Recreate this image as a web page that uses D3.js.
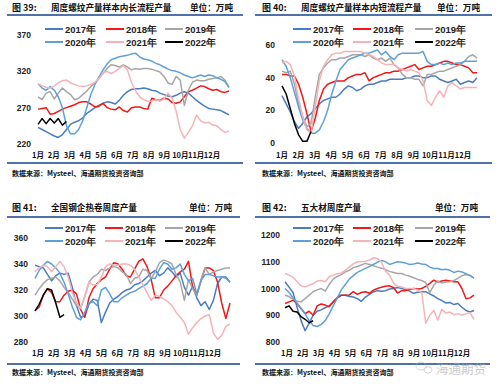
<!DOCTYPE html>
<html>
<head>
<meta charset="utf-8">
<script src="https://d3js.org/d3.v7.min.js"></script>
<style>
  body { margin: 0; background: #fff; }
  svg { font-family: "Liberation Sans", Arial, sans-serif; }
  .cn { font-family: "Noto Sans CJK SC", "Noto Sans", sans-serif; }
</style>
</head>
<body>
<div id="chart"></div>
<script>
var years = ["2017年", "2018年", "2019年", "2020年", "2021年", "2022年"];
var months = ["1月", "2月", "3月", "4月", "5月", "6月", "7月", "8月", "9月", "10月", "11月", "12月"];

// 图39 周度螺纹产量样本内长流程产量（weekly）
var long2017 = [243,240,237,234,231,229,233,240,247,250,252,256,262,266,270,273,276,278,277,275,280,287,292,295,296,296,297,296,294,293,290,288,286,285,287,290,292,290,285,280,276,272,269,268,267,266,263,260];
var long2018 = [268,269,270,261,262,265,268,270,272,274,277,278,278,275,271,272,276,270,268,267,271,266,264,270,271,271,269,268,283,281,280,283,282,277,276,278,285,292,294,297,300,299,296,294,295,292,291,293];
var long2019 = [285,281,290,292,282,290,297,292,288,281,283,288,293,299,304,310,317,324,329,328,326,329,326,322,324,323,324,324,323,321,319,313,304,302,313,308,273,294,305,308,307,307,309,310,311,313,308,298];
var long2020 = [303,297,294,299,294,285,270,245,234,234,240,252,270,288,302,312,322,330,336,338,340,341,342,344,345,340,337,336,334,331,329,326,323,321,320,318,315,313,311,313,315,313,315,314,311,309,306,298];
var long2021 = [303,300,298,297,300,304,307,308,304,302,300,299,300,302,305,310,318,320,317,320,324,328,322,305,293,285,281,279,279,281,279,282,290,283,265,240,228,236,245,260,252,249,250,246,245,240,236,238];
var long2022 = [247,255,248,255,249,255,246,251];

// 图40 周度螺纹产量样本内短流程产量
var short2017 = [29,24,19,13,9,12,16,18,21,24,26,27,28,28,30,33,35,34,32,33,35,36,36,37,38,38,39,39,39,39,40,40,41,41,40,40,41,41,39,38,37,38,39,36,37,38,37,40];
var short2018 = [42,42,41,41,36,28,18,7,15,26,33,36,37,38,38,38,40,41,42,42,43,38,40,41,42,43,43,44,44,45,46,47,48,45,46,47,47,48,49,50,50,49,48,48,47,46,43,43];
var short2019 = [44,43,44,36,24,16,10,12,28,42,46,49,51,51,52,52,53,54,54,54,53,54,52,51,52,50,52,48,46,42,40,40,39,39,35,42,42,43,44,44,45,46,47,48,50,53,54,52];
var short2020 = [51,47,40,31,22,14,9,6,6,8,13,20,30,38,45,48,51,52,53,54,55,55,56,57,54,56,53,51,54,55,55,55,55,55,56,50,48,48,49,48,49,48,49,49,50,50,50,50];
var short2021 = [49,50,48,41,27,16,8,6,22,38,47,51,54,55,55,56,56,56,56,56,55,54,53,51,49,48,48,48,46,45,44,45,44,43,38,26,23,28,32,28,35,37,35,33,34,34,34,34];
var short2022 = [35,30,21,12,5,1,1,7];

// 图41 全国钢企热卷周度产量
var coil2017 = [339,338,337,332,327,331,333,332,333,322,308,299,300,309,313,312,295,303,310,313,315,318,320,321,324,325,327,330,333,335,331,333,337,334,330,333,322,316,323,314,308,311,305,312,325,330,330,326];
var coil2018 = [304,307,316,321,318,311,311,316,319,320,317,305,299,314,321,325,328,330,336,341,340,336,331,330,336,342,344,338,328,314,314,320,323,327,331,334,336,342,322,316,327,337,337,335,326,310,298,310];
var coil2019 = [316,321,325,328,329,330,327,322,318,313,308,306,315,326,330,332,336,335,337,338,337,334,332,325,329,330,336,335,329,334,341,343,342,340,332,326,312,328,321,316,328,337,332,334,335,336,337,337];
var coil2020 = [329,335,339,342,340,337,333,326,317,307,299,297,303,310,311,308,320,322,317,311,311,314,316,318,319,321,323,325,329,329,336,341,340,336,337,340,332,327,329,317,327,332,332,331,330,330,329,326];
var coil2021 = [334,337,339,338,334,338,342,338,330,318,310,306,315,326,324,324,330,338,340,339,339,340,340,339,336,330,324,318,312,316,315,313,311,308,303,299,295,286,291,295,298,300,301,287,282,285,292,294];
var coil2022 = [304,309,316,321,320,310,299,301];

// 图42 五大材周度产量
var five2017 = [1025,1005,985,930,880,842,870,900,915,920,928,935,950,965,975,975,970,968,962,952,968,978,988,992,990,992,998,1000,1004,1000,996,990,982,986,988,988,980,972,962,955,946,948,940,944,930,918,912,918];
var five2018 = [944,950,956,944,925,906,915,900,935,942,938,932,950,965,975,975,976,988,978,985,988,982,994,1000,1005,1008,1010,1003,983,992,992,996,1000,998,1000,1008,1019,1031,1024,1028,1031,1028,1025,1025,1000,962,965,975];
var five2019 = [975,970,960,952,950,962,975,988,995,1000,990,1015,1035,1045,1052,1062,1068,1078,1082,1088,1094,1090,1085,1080,1076,1070,1064,1060,1056,1056,1050,1046,1040,1034,1030,1022,985,1012,1028,1020,1024,1025,1030,1038,1048,1052,1050,1038];
var five2020 = [1000,985,965,945,925,905,880,862,858,866,880,905,935,965,995,1015,1035,1048,1060,1068,1075,1082,1090,1098,1105,1100,1090,1095,1100,1098,1095,1090,1092,1095,1092,1090,1080,1075,1075,1070,1072,1068,1060,1065,1062,1055,1048,1040];
var five2021 = [1056,1050,1042,1025,1010,1006,1012,1018,1028,1030,1025,1044,1050,1055,1058,1068,1080,1092,1100,1100,1102,1106,1115,1112,1098,1065,1050,1020,1008,1006,1000,1000,1000,994,985,870,900,918,882,922,908,912,902,906,900,905,910,885];
var five2022 = [928,935,915,912,895,885,872,880];

var colors = ["#4a7cc0", "#f01818", "#a6a6a6", "#5ea1da", "#f5b3b8", "#000000"];
var ruleColor = "#4f73a8";

var panels = [
  { ox: 0, num: "图 39:", title: "周度螺纹产量样本内长流程产量",
    series: [long2017, long2018, long2019, long2020, long2021, long2022],
    domain: [220, 370], ticks: [220, 270, 320, 370], yTop: 35, yBot: 144,
    xL: 38, xR: 229, mL: 38, mR: 212, labR: 31, unitR: 233,
    titleY: 7, ruleY: 15, ruleX: [7, 243], legY: [29, 42], legX: [45, 106, 165],
    monthY: 154, footY: 163, srcY: 173 },
  { ox: 250, num: "图 40:", title: "周度螺纹产量样本内短流程产量",
    series: [short2017, short2018, short2019, short2020, short2021, short2022],
    domain: [0, 60], ticks: [0, 20, 40, 60], yTop: 45, yBot: 143,
    xL: 282, xR: 477, mL: 282, mR: 463, labR: 275, unitR: 480,
    titleY: 7, ruleY: 15, ruleX: [255, 492], legY: [29, 42], legX: [293, 353, 415],
    monthY: 154, footY: 163, srcY: 173 },
  { ox: 0, num: "图 41:", title: "全国钢企热卷周度产量",
    series: [coil2017, coil2018, coil2019, coil2020, coil2021, coil2022],
    domain: [280, 360], ticks: [280, 300, 320, 340, 360], yTop: 238, yBot: 342,
    xL: 35, xR: 230, mL: 38, mR: 213, labR: 28, unitR: 232,
    titleY: 207, ruleY: 217, ruleX: [7, 240], legY: [228, 241], legX: [45, 105, 165],
    monthY: 352, footY: 364, srcY: 372 },
  { ox: 250, num: "图 42:", title: "五大材周度产量",
    series: [five2017, five2018, five2019, five2020, five2021, five2022],
    domain: [800, 1200], ticks: [800, 900, 1000, 1100, 1200], yTop: 235, yBot: 342,
    xL: 285, xR: 474, mL: 287, mR: 462, labR: 280, unitR: 478,
    titleY: 207, ruleY: 217, ruleX: [255, 490], legY: [228, 241], legX: [293, 353, 415],
    monthY: 352, footY: 364, srcY: 372 }
];

var svg = d3.select("#chart").append("svg")
  .attr("width", 500)
  .attr("height", 390);

panels.forEach(function (p) {
  var g = svg.append("g");

  // title row
  g.append("text").attr("class", "cn")
    .attr("x", p.ox + 12).attr("y", p.titleY)
    .attr("dominant-baseline", "central")
    .attr("font-size", 9).attr("font-weight", "bold").attr("fill", "#111")
    .text(p.num);
  g.append("text").attr("class", "cn")
    .attr("x", p.ox + 51).attr("y", p.titleY)
    .attr("dominant-baseline", "central")
    .attr("font-size", 8.6).attr("font-weight", "bold").attr("fill", "#111")
    .text(p.title);
  g.append("text").attr("class", "cn")
    .attr("x", p.unitR).attr("y", p.titleY)
    .attr("dominant-baseline", "central").attr("text-anchor", "end")
    .attr("font-size", 8.6).attr("font-weight", "bold").attr("fill", "#111")
    .text("单位：万吨");

  g.append("line")
    .attr("x1", p.ruleX[0]).attr("x2", p.ruleX[1])
    .attr("y1", p.ruleY).attr("y2", p.ruleY)
    .attr("stroke", ruleColor).attr("stroke-width", 2);
  g.append("line")
    .attr("x1", p.ruleX[0]).attr("x2", p.ruleX[1])
    .attr("y1", p.footY).attr("y2", p.footY)
    .attr("stroke", ruleColor).attr("stroke-width", 2);

  g.append("text").attr("class", "cn")
    .attr("x", p.ox + 12).attr("y", p.srcY)
    .attr("dominant-baseline", "central")
    .attr("font-size", 7).attr("font-weight", "bold").attr("fill", "#111")
    .text("数据来源：Mysteel、海通期货投资咨询部");

  var x = d3.scaleLinear().domain([0, 47]).range([p.xL, p.xR]);
  var y = d3.scaleLinear().domain(p.domain).range([p.yBot, p.yTop]);
  var xm = d3.scalePoint().domain(months).range([p.mL, p.mR]);

  // y labels
  g.selectAll(".yl").data(p.ticks).enter().append("text")
    .attr("x", p.labR).attr("y", function (d) { return y(d); })
    .attr("text-anchor", "end").attr("dominant-baseline", "central")
    .attr("font-size", 8.5).attr("font-weight", "bold").attr("fill", "#222")
    .text(function (d) { return d; });

  // month labels
  g.selectAll(".ml").data(months).enter().append("text").attr("class", "cn")
    .attr("x", function (d) { return xm(d); }).attr("y", p.monthY)
    .attr("text-anchor", "middle").attr("dominant-baseline", "central")
    .attr("font-size", 7.5).attr("font-weight", "bold").attr("fill", "#111")
    .text(function (d) { return d; });

  var line = d3.line()
    .x(function (d, i) { return x(i); })
    .y(function (d) { return y(d); });

  p.series.forEach(function (s, k) {
    g.append("path")
      .datum(s)
      .attr("d", line)
      .attr("fill", "none")
      .attr("stroke", colors[k])
      .attr("stroke-width", 1.5)
      .attr("stroke-linejoin", "round");
  });

  // legend
  years.forEach(function (yr, k) {
    var lx = p.legX[k % 3], ly = p.legY[Math.floor(k / 3)];
    g.append("line")
      .attr("x1", lx).attr("x2", lx + 18).attr("y1", ly).attr("y2", ly)
      .attr("stroke", colors[k]).attr("stroke-width", 2);
    g.append("text")
      .attr("x", lx + 20).attr("y", ly)
      .attr("dominant-baseline", "central")
      .attr("font-size", 9.5).attr("font-weight", "bold").attr("fill", "#222")
      .text(yr);
  });
});

// watermark
var wm = svg.append("g").attr("opacity", 0.6);
wm.append("ellipse").attr("cx", 421).attr("cy", 366).attr("rx", 5).attr("ry", 4)
  .attr("fill", "none").attr("stroke", "#bbb").attr("stroke-width", 1);
wm.append("ellipse").attr("cx", 428).attr("cy", 370).attr("rx", 4).attr("ry", 3.2)
  .attr("fill", "none").attr("stroke", "#bbb").attr("stroke-width", 1);
wm.append("text").attr("class", "cn")
  .attr("x", 436).attr("y", 368).attr("dominant-baseline", "central")
  .attr("font-size", 12.5).attr("fill", "#aaa")
  .text("海通期货");
</script>
</body>
</html>
